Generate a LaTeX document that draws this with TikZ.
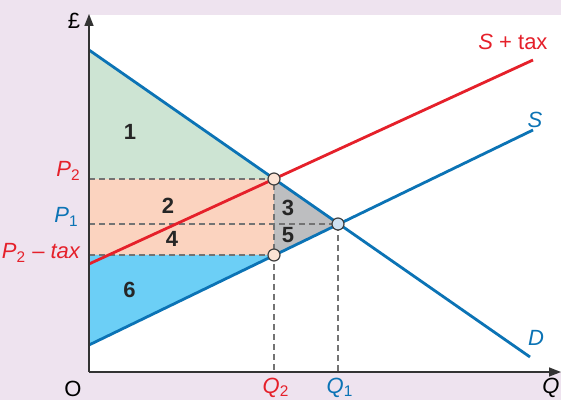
\documentclass[tikz,border=0pt]{standalone}
\usepackage{fontspec}
\setmainfont{Liberation Sans}
\usetikzlibrary{arrows.meta}
\definecolor{bgpurple}{HTML}{EEE3EF}
\definecolor{lineblue}{HTML}{0B73B5}
\definecolor{linered}{HTML}{E5202A}
\definecolor{areagreen}{HTML}{CDE4D3}
\definecolor{areapeach}{HTML}{FBD3BF}
\definecolor{areablue}{HTML}{6CCFF6}
\definecolor{areagrey}{HTML}{BDBEC0}
\definecolor{dotpeach}{HTML}{FCE3D4}
\definecolor{dotblue}{HTML}{CFE1F2}
\tikzset{
  axis/.style={-{Triangle[length=6pt,width=4.5pt]},line width=0.8pt,draw=black!80},
  curve/.style={line width=1.4pt},
  dashline/.style={dashed,dash pattern=on 3pt off 2pt,line width=0.7pt,draw=black!55},
  dot/.style={circle,draw=black!75,line width=0.6pt,inner sep=0pt,minimum size=6pt},
  lbl/.style={font=\fontsize{11}{13}\selectfont,inner sep=0pt},
  areanum/.style={font=\fontsize{11}{13}\selectfont\bfseries,inner sep=0pt,anchor=base,text=black!85}
}
\begin{document}
\begin{tikzpicture}[x=0.5pt,y=-0.5pt]
    \useasboundingbox (0,0) rectangle (561,400);
    \fill[bgpurple] (0,0) rectangle (561,400);
    \fill[white] (89,15) rectangle (561,372);
    % key points
    \coordinate (O) at (89,372);
    \coordinate (Dtop) at (89,50);
    \coordinate (Dend) at (530,357);
    \coordinate (Sstart) at (89,345);
    \coordinate (Send) at (533,130);
    \coordinate (Tstart) at (89,264);
    \coordinate (Tend) at (533,60);
    \coordinate (A) at (274,179); % P2, Q2
    \coordinate (E) at (338,224); % P1, Q1
    \coordinate (B) at (274,255); % P2 - tax
    % areas
    \fill[areagreen] (Dtop) -- (A) -- (O |- A) -- cycle;
    \fill[areapeach] (O |- A) rectangle (B);
    \fill[areagrey] (A) -- (E) -- (B) -- cycle;
    \fill[areablue] (O |- B) -- (B) -- (Sstart) -- cycle;
    % guide lines
    \draw[dashline] (O |- A) -- (A) -- (A |- O);
    \draw[dashline] (O |- E) -- (E) -- (E |- O);
    \draw[dashline] (O |- B) -- (B);
    % curves
    \draw[curve,lineblue] (Dtop) -- (Dend);
    \draw[curve,lineblue] (Sstart) -- (Send);
    \draw[curve,linered] (Tstart) -- (Tend);
    % axes
    \draw[axis] (O) -- (89,14);
    \draw[axis] (O) -- (561,372);
    \node[dot,fill=dotpeach] (ptA) at (A) {};
    \node[dot,fill=dotpeach] (ptB) at (B) {};
    \node[dot,fill=dotblue] (ptE) at (E) {};
    % labels
    \node[lbl,anchor=base] (pound) at (74,29) {£};
    \node[lbl,anchor=base] (origin) at (73,396) {O};
    \node[lbl,anchor=base east] (qaxis) at (560,393) {\textit{Q}};
    \node[lbl,anchor=base east,text=linered] (ptwo) at (81,177) {\textit{P}\textsubscript{2}};
    \node[lbl,anchor=base east,text=lineblue] (pone) at (79,223) {\textit{P}\textsubscript{1}};
    \node[lbl,anchor=base east,text=linered] (ptax) at (81,259) {\textit{P}\textsubscript{2} -- \textit{tax}};
    \node[lbl,anchor=base,text=linered] (qtwo) at (276,393) {\textit{Q}\textsubscript{2}};
    \node[lbl,anchor=base,text=lineblue] (qone) at (340,393) {\textit{Q}\textsubscript{1}};
    \node[lbl,anchor=base west,text=linered] (stax) at (478,50) {\textit{S} + tax};
    \node[lbl,anchor=base,text=lineblue] (slab) at (535,128) {\textit{S}};
    \node[lbl,anchor=base,text=lineblue] (dlab) at (536,345) {\textit{D}};
    \node[areanum] (n1) at (130,140) {1};
    \node[areanum] (n2) at (168,214) {2};
    \node[areanum] (n3) at (288,216) {3};
    \node[areanum] (n4) at (172,247) {4};
    \node[areanum] (n5) at (288,243) {5};
    \node[areanum] (n6) at (129.5,298) {6};
\end{tikzpicture}
\end{document}
